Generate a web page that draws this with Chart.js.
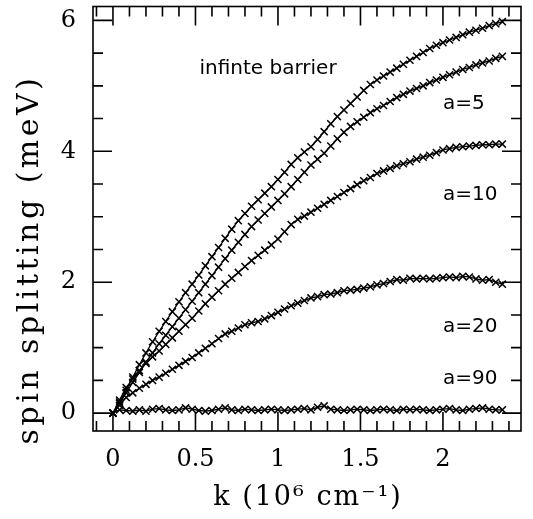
<!DOCTYPE html>
<html>
<head>
<meta charset="utf-8">
<script src="https://cdn.jsdelivr.net/npm/chart.js@4.4.1/dist/chart.umd.min.js"></script>
<style>
  html, body { margin: 0; padding: 0; background: #fff; }
  #wrap { width: 533px; height: 519px; }
</style>
</head>
<body>
<div id="wrap"><canvas id="chart" width="533" height="519"></canvas></div>
<script>
// k in 10^6 cm^-1
const kValues = [
  0.00, 0.04, 0.08, 0.12, 0.16, 0.20, 0.24, 0.28, 0.32, 0.36,
  0.40, 0.44, 0.48, 0.52, 0.56, 0.60, 0.64, 0.68, 0.72, 0.76,
  0.80, 0.84, 0.88, 0.92, 0.96, 1.00, 1.04, 1.08, 1.12, 1.16,
  1.20, 1.24, 1.28, 1.32, 1.36, 1.40, 1.44, 1.48, 1.52, 1.56,
  1.60, 1.64, 1.68, 1.72, 1.76, 1.80, 1.84, 1.88, 1.92, 1.96,
  2.00, 2.04, 2.08, 2.12, 2.16, 2.20, 2.24, 2.28, 2.32, 2.36
];

// spin splitting (meV)
const infiniteBarrier = [
  0, 0.17, 0.35, 0.55, 0.74, 0.92, 1.09, 1.25, 1.40, 1.55,
  1.70, 1.84, 1.97, 2.11, 2.25, 2.39, 2.53, 2.67, 2.81, 2.94,
  3.05, 3.16, 3.26, 3.36, 3.46, 3.57, 3.68, 3.80, 3.90, 3.99,
  4.07, 4.18, 4.30, 4.42, 4.53, 4.63, 4.73, 4.83, 4.93, 5.02,
  5.09, 5.15, 5.21, 5.27, 5.33, 5.39, 5.45, 5.51, 5.57, 5.62,
  5.66, 5.70, 5.74, 5.78, 5.82, 5.85, 5.88, 5.92, 5.95, 5.98
];
const a5 = [
  0, 0.15, 0.31, 0.47, 0.62, 0.78, 0.92, 1.06, 1.19, 1.32,
  1.45, 1.58, 1.71, 1.84, 1.97, 2.10, 2.23, 2.36, 2.49, 2.61,
  2.73, 2.85, 2.95, 3.05, 3.15, 3.25, 3.35, 3.46, 3.57, 3.68,
  3.79, 3.88, 3.97, 4.08, 4.19, 4.29, 4.38, 4.45, 4.52, 4.59,
  4.65, 4.70, 4.76, 4.82, 4.87, 4.92, 4.96, 5.00, 5.05, 5.09,
  5.13, 5.17, 5.21, 5.25, 5.28, 5.32, 5.35, 5.38, 5.42, 5.45
];
const a10 = [
  0, 0.20, 0.39, 0.52, 0.65, 0.76, 0.86, 0.95, 1.05, 1.15,
  1.25, 1.35, 1.45, 1.56, 1.67, 1.77, 1.87, 1.97, 2.06, 2.15,
  2.24, 2.33, 2.41, 2.49, 2.57, 2.66, 2.77, 2.88, 2.96, 3.01,
  3.07, 3.13, 3.19, 3.25, 3.31, 3.37, 3.43, 3.49, 3.55, 3.60,
  3.66, 3.70, 3.74, 3.78, 3.81, 3.84, 3.88, 3.91, 3.94, 3.98,
  4.02, 4.04, 4.06, 4.07, 4.08, 4.09, 4.10, 4.10, 4.11, 4.11
];
const a20 = [
  0, 0.12, 0.24, 0.31, 0.38, 0.44, 0.50, 0.55, 0.61, 0.67,
  0.73, 0.79, 0.85, 0.92, 0.99, 1.06, 1.14, 1.21, 1.25, 1.30,
  1.35, 1.38, 1.40, 1.44, 1.49, 1.54, 1.59, 1.64, 1.68, 1.72,
  1.76, 1.78, 1.81, 1.82, 1.84, 1.87, 1.88, 1.89, 1.91, 1.93,
  1.96, 1.98, 2.01, 2.04, 2.03, 2.06, 2.05, 2.06, 2.05, 2.06,
  2.07, 2.08, 2.07, 2.09, 2.08, 2.05, 2.03, 2.04, 2.00, 1.97
];
const a90 = [
  0, 0.05, 0.04, 0.03, 0.05, 0.03, 0.06, 0.07, 0.05, 0.04,
  0.05, 0.08, 0.06, 0.04, 0.03, 0.04, 0.06, 0.08, 0.05, 0.04,
  0.06, 0.05, 0.04, 0.05, 0.06, 0.05, 0.04, 0.05, 0.06, 0.07,
  0.05, 0.09, 0.11, 0.06, 0.05, 0.04, 0.05, 0.06, 0.05, 0.04,
  0.05, 0.06, 0.05, 0.04, 0.06, 0.05, 0.06, 0.05, 0.04, 0.05,
  0.06, 0.07, 0.05, 0.04, 0.06, 0.07, 0.08, 0.06, 0.05, 0.05
];

const xTickLabels = [0, 0.5, 1, 1.5, 2];
const yTickLabels = [0, 2, 4, 6];

// curve labels, placed in data coordinates
const curveLabels = [
  { text: 'infinte barrier', k: 0.94, v: 5.26, align: 'center' },
  { text: 'a=5', k: 2.0, v: 4.73, align: 'left' },
  { text: 'a=10', k: 2.0, v: 3.33, align: 'left' },
  { text: 'a=20', k: 2.0, v: 1.32, align: 'left' },
  { text: 'a=90', k: 2.0, v: 0.52, align: 'left' }
];

const series = [
  ['infinite barrier', infiniteBarrier],
  ['a=5', a5],
  ['a=10', a10],
  ['a=20', a20],
  ['a=90', a90]
];

const datasets = series.map(([label, vals]) => ({
  label,
  data: vals.map((v, i) => ({ x: kValues[i], y: v })),
  borderColor: '#000',
  backgroundColor: '#000',
  borderWidth: 1.3,
  pointStyle: 'crossRot',
  pointRadius: 5,
  pointBorderWidth: 1.5,
  pointBorderColor: '#000',
  tension: 0,
  fill: false
}));

const serif = '"DejaVu Serif", "Liberation Serif", serif';
const sans = '"DejaVu Sans", "Liberation Sans", sans-serif';

// frame, inward ticks on all four sides, axis titles and curve labels
const frameTicks = {
  id: 'frameTicks',
  afterDraw(chart) {
    const { ctx, chartArea: ca, scales: { x, y } } = chart;
    ctx.save();
    ctx.strokeStyle = '#000';
    ctx.lineWidth = 1.6;
    ctx.strokeRect(ca.left, ca.top, ca.right - ca.left, ca.bottom - ca.top);

    ctx.beginPath();
    for (let i = -1; i <= 24; i++) {
      const k = i / 10;
      const px = x.getPixelForValue(k);
      if (px < ca.left + 1 || px > ca.right - 1) continue;
      const len = i % 5 === 0 ? 19 : 10;
      ctx.moveTo(px, ca.bottom); ctx.lineTo(px, ca.bottom - len);
      ctx.moveTo(px, ca.top); ctx.lineTo(px, ca.top + len);
    }
    for (let i = 0; i <= 12; i++) {
      const v = i / 2;
      const py = y.getPixelForValue(v);
      const len = i % 4 === 0 ? 19 : 10;
      ctx.moveTo(ca.left, py); ctx.lineTo(ca.left + len, py);
      ctx.moveTo(ca.right, py); ctx.lineTo(ca.right - len, py);
    }
    ctx.stroke();

    ctx.fillStyle = '#000';
    ctx.textBaseline = 'middle';

    // y axis title
    ctx.save();
    ctx.font = '30px ' + serif;
    ctx.letterSpacing = '3.5px';
    ctx.translate(30, ca.top + 253);
    ctx.rotate(-Math.PI / 2);
    ctx.textAlign = 'center';
    ctx.fillText('spin splitting (meV)', 0, 0);
    ctx.restore();

    // x axis title
    ctx.save();
    ctx.font = '27px ' + serif;
    ctx.letterSpacing = '2px';
    ctx.textAlign = 'center';
    ctx.fillText('k (10⁶ cm⁻¹)', 308, 498);
    ctx.restore();

    ctx.font = '20px ' + sans;
    curveLabels.forEach(l => {
      ctx.textAlign = l.align;
      ctx.fillText(l.text, x.getPixelForValue(l.k), y.getPixelForValue(l.v));
    });
    ctx.restore();
  }
};

new Chart(document.getElementById('chart'), {
  type: 'line',
  data: { datasets },
  options: {
    responsive: false,
    animation: false,
    layout: { padding: { top: 3, right: 12, left: 0, bottom: 0 } },
    plugins: { legend: { display: false }, tooltip: { enabled: false } },
    scales: {
      x: {
        type: 'linear',
        min: -0.121,
        max: 2.473,
        afterFit: (s) => { s.height = 88; s.paddingLeft = 0; s.paddingRight = 0; },
        afterBuildTicks: (s) => { s.ticks = xTickLabels.map(v => ({ value: v })); },
        grid: { display: false, drawTicks: false },
        border: { display: false },
        ticks: {
          padding: 14,
          autoSkip: false,
          maxRotation: 0,
          color: '#000',
          font: { family: serif, size: 24 },
          callback: (v) => String(v)
        }
      },
      y: {
        type: 'linear',
        min: -0.273,
        max: 6.212,
        afterFit: (s) => { s.width = 93; s.paddingTop = 0; s.paddingBottom = 0; },
        afterBuildTicks: (s) => { s.ticks = yTickLabels.map(v => ({ value: v })); },
        grid: { display: false, drawTicks: false },
        border: { display: false },
        ticks: {
          padding: 17,
          autoSkip: false,
          color: '#000',
          font: { family: serif, size: 24 },
          callback: (v) => String(v)
        }
      }
    }
  },
  plugins: [frameTicks]
});
</script>
</body>
</html>
